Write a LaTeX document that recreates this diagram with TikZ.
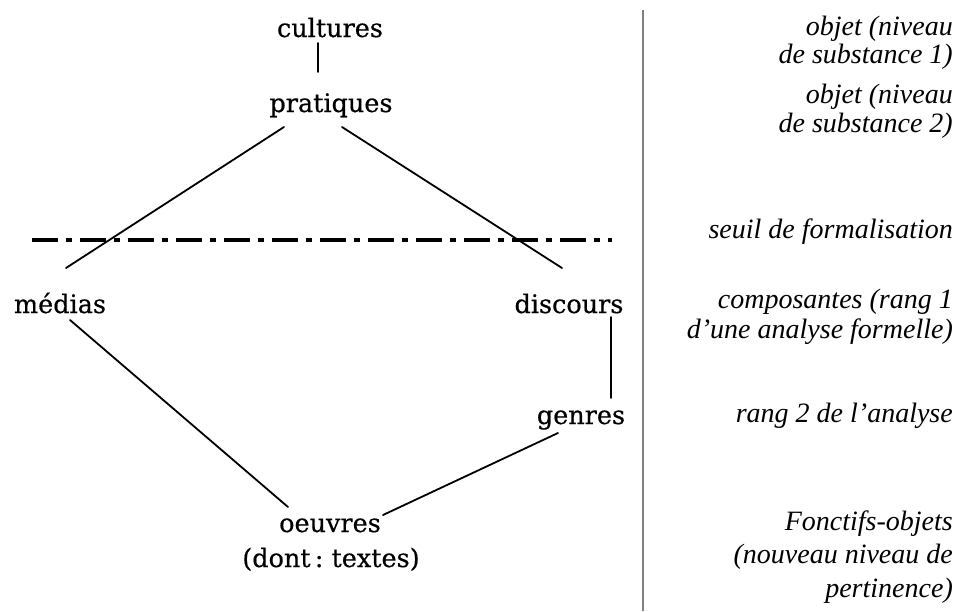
\documentclass[tikz,border=0pt]{standalone}
\usepackage{fontspec}
\setmainfont{Liberation Serif}
\newfontfamily\termfont[UprightFeatures={FakeBold=0.5}]{DejaVu Serif}
\usetikzlibrary{calc}
\begin{document}
\begin{tikzpicture}[x=1pt,y=-1pt,
  term/.style={font=\termfont\fontsize{25.5}{30}\selectfont, inner sep=0pt, anchor=base},
  gloss/.style={font=\fontsize{28}{30}\selectfont\itshape, inner sep=0pt, anchor=base east},
  link/.style={line width=1.8pt, line cap=round},
  threshold/.style={line width=4pt, dash pattern=on 26pt off 8pt on 6pt off 8pt},
  divider/.style={line width=1.3pt, draw=black!50}]
\useasboundingbox (0,0) rectangle (959,611);

% left: the hierarchy of levels
\node[term] (cult) at (330,37) {cultures};
\node[term] (prat) at (331,112) {pratiques};
\node[term] (med)  at (60,313) {médias};
\node[term] (disc) at (569,313) {discours};
\node[term] (genr) at (581,424) {genres};
\node[term] (oeuv) at (330,532) {oeuvres};
\node[term] (dont) at (331,567) {(dont\,:\ textes)};

% connectors between levels
\draw[link] ($(cult.base)+(-12,6)$) -- ($(prat.base)+(-13,-40)$);
\draw[link] ($(prat.base)+(-47,15)$) -- ($(med.base)+(6,-45)$);
\draw[link] ($(prat.base)+(11,15)$) -- ($(disc.base)+(-7,-45)$);
\draw[link] ($(med.base)+(10,7)$) -- ($(oeuv.base)+(-42,-25)$);
\draw[link] ($(disc.base)+(42,4)$) -- ($(genr.base)+(30,-26)$);
\draw[link] ($(genr.base)+(-23,9)$) -- ($(oeuv.base)+(53,-17)$);

% formalisation threshold
\coordinate (thrL) at (32,240);
\coordinate (thrR) at (612,240);
\draw[threshold] (thrL) -- (thrR);

% vertical divider
\coordinate (divT) at (643,10);
\coordinate (divB) at (643,611);
\draw[divider] (divT) -- (divB);

% right: glosses
\node[gloss] (g1a) at (953,35) {objet (niveau};
\node[gloss] (g1b) at (953,63) {de substance 1)};
\node[gloss] (g2a) at (953,103) {objet (niveau};
\node[gloss] (g2b) at (953,132) {de substance 2)};
\node[gloss] (g3)  at (953,238) {seuil de formalisation};
\node[gloss] (g4a) at (953,308) {composantes (rang 1};
\node[gloss] (g4b) at (953,338) {d’une analyse formelle)};
\node[gloss] (g5)  at (953,422) {rang 2 de l’analyse};
\node[gloss] (g6a) at (953,530) {Fonctifs-objets};
\node[gloss] (g6b) at (953,563) {(nouveau niveau de};
\node[gloss] (g6c) at (953,597) {pertinence)};
\end{tikzpicture}
\end{document}
